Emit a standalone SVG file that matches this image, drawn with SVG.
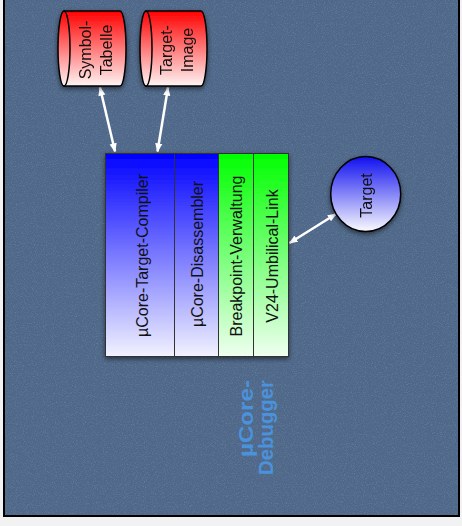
<svg xmlns="http://www.w3.org/2000/svg" width="462" height="526" viewBox="0 0 462 526">
  <defs>
    <style>
      .lbl { font-family: "Liberation Sans", Arial, sans-serif; font-size: 16px; fill: #111; }
      .title { font-family: "Liberation Sans", Arial, sans-serif; font-size: 20px; font-weight: bold; fill: #4a92dc; }
      .edge { stroke: #ffffff; stroke-width: 2.5; fill: none; marker-start: url(#head); marker-end: url(#head); }
      .outline { stroke: #000; stroke-width: 1.5; }
      .div { stroke: #333; stroke-width: 1; }
    </style>
    <linearGradient id="red" x1="0" y1="0" x2="0" y2="1">
      <stop offset="0" stop-color="#ff0000"/>
      <stop offset="1" stop-color="#fff4f4"/>
    </linearGradient>
    <linearGradient id="blue" x1="0" y1="0" x2="0" y2="1">
      <stop offset="0" stop-color="#0000ff"/>
      <stop offset="1" stop-color="#f2f2ff"/>
    </linearGradient>
    <linearGradient id="green" x1="0" y1="0" x2="0" y2="1">
      <stop offset="0" stop-color="#00ff00"/>
      <stop offset="1" stop-color="#effff0"/>
    </linearGradient>
    <linearGradient id="ball" x1="0" y1="0" x2="0" y2="1">
      <stop offset="0" stop-color="#1010f0"/>
      <stop offset="1" stop-color="#fafaff"/>
    </linearGradient>
    <filter id="shadow" x="-20%" y="-20%" width="140%" height="140%">
      <feDropShadow dx="0" dy="2" stdDeviation="2.5" flood-color="#000" flood-opacity="0.55"/>
    </filter>
    <filter id="grain" x="0" y="0" width="100%" height="100%">
      <feTurbulence type="fractalNoise" baseFrequency="0.9" numOctaves="2" seed="7"/>
      <feColorMatrix type="matrix" values="0 0 0 0 0.85  0 0 0 0 0.9  0 0 0 0 1  1.6 0 0 0 -0.75"/>
    </filter>
    <marker id="head" viewBox="0 0 10 8" refX="9" refY="4" markerWidth="3.6" markerHeight="3.2" orient="auto-start-reverse" markerUnits="strokeWidth">
      <path d="M0,0 L10,4 L0,8 Z" fill="#ffffff"/>
    </marker>
  </defs>

  <!-- backdrop -->
  <rect x="0" y="0" width="462" height="526" fill="#f2f2f2"/>
  <rect x="4" y="-4" width="455" height="520" fill="#4f6889"/>
  <rect x="4" y="-4" width="455" height="520" fill="#fff" filter="url(#grain)" opacity="0.22"/>
  <rect x="4" y="-4" width="455" height="520" fill="none" stroke="#000" stroke-width="2"/>

  <!-- connectors -->
  <g id="connectors">
    <line class="edge" x1="100" y1="87.5" x2="115" y2="151.5"/>
    <line class="edge" x1="168" y1="87.5" x2="157.5" y2="151.5"/>
    <line class="edge" x1="336" y1="214" x2="289.5" y2="243"/>
  </g>

  <!-- symbol table store -->
  <g id="symbol-tabelle" filter="url(#shadow)">
    <path class="outline" fill="url(#red)" d="M64,11 L120,11 A6,37.5 0 0 1 120,86 L64,86 Z"/>
    <ellipse class="outline" fill="url(#red)" cx="64" cy="48.5" rx="6" ry="37.5"/>
    <text class="lbl" text-anchor="middle" transform="translate(90.5,50) rotate(-90)">Symbol-</text>
    <text class="lbl" text-anchor="middle" transform="translate(111.5,50) rotate(-90)">Tabelle</text>
  </g>

  <!-- target image store -->
  <g id="target-image" filter="url(#shadow)">
    <path class="outline" fill="url(#red)" d="M146,11 L201,11 A6,37.5 0 0 1 201,86 L146,86 Z"/>
    <ellipse class="outline" fill="url(#red)" cx="146" cy="48.5" rx="6" ry="37.5"/>
    <text class="lbl" text-anchor="middle" transform="translate(171.5,50) rotate(-90)">Target-</text>
    <text class="lbl" text-anchor="middle" transform="translate(193,50) rotate(-90)">Image</text>
  </g>

  <!-- debugger block -->
  <g id="debugger" filter="url(#shadow)">
    <rect x="105.5" y="153.5" width="69" height="203" fill="url(#blue)"/>
    <rect x="174.5" y="153.5" width="44" height="203" fill="url(#blue)"/>
    <rect x="218.5" y="153.5" width="35" height="203" fill="url(#green)"/>
    <rect x="253.5" y="153.5" width="35" height="203" fill="url(#green)"/>
    <rect x="105.5" y="153.5" width="183" height="203" fill="none" class="div"/>
    <line class="div" x1="174.5" y1="153.5" x2="174.5" y2="356.5"/>
    <line class="div" x1="218.5" y1="153.5" x2="218.5" y2="356.5"/>
    <line class="div" x1="253.5" y1="153.5" x2="253.5" y2="356.5"/>
  </g>
  <g id="compiler">
    <text class="lbl" text-anchor="middle" transform="translate(148,255.5) rotate(-90)">µCore-Target-Compiler</text>
  </g>
  <g id="disassembler">
    <text class="lbl" text-anchor="middle" transform="translate(202.5,254) rotate(-90)">µCore-Disassembler</text>
  </g>
  <g id="breakpoint">
    <text class="lbl" text-anchor="middle" transform="translate(241.5,256) rotate(-90)">Breakpoint-Verwaltung</text>
  </g>
  <g id="umbilical">
    <text class="lbl" text-anchor="middle" transform="translate(277.5,256) rotate(-90)">V24-Umbilical-Link</text>
  </g>

  <!-- target -->
  <g id="target" filter="url(#shadow)">
    <ellipse class="outline" fill="url(#ball)" cx="365.7" cy="194" rx="35" ry="37.5"/>
    <text class="lbl" text-anchor="middle" transform="translate(372,195.5) rotate(-90)">Target</text>
  </g>

  <!-- block title -->
  <g id="title">
    <text class="title" textLength="77" lengthAdjust="spacingAndGlyphs" transform="translate(253,457) rotate(-90)">µCore-</text>
    <text class="title" textLength="95" lengthAdjust="spacingAndGlyphs" transform="translate(273,475) rotate(-90)">Debugger</text>
  </g>
</svg>
